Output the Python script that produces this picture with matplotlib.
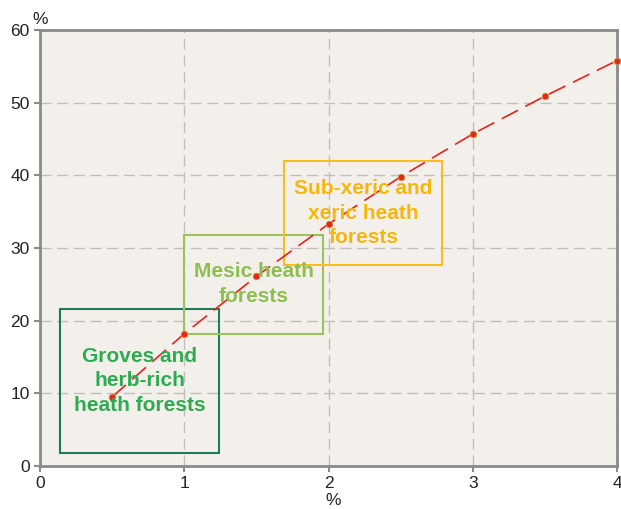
import matplotlib
matplotlib.use("Agg")
import matplotlib.pyplot as plt
from matplotlib.patches import Rectangle

plt.rcParams['font.family'] = ['Liberation Sans', 'DejaVu Sans']

# series
x_vals = [0.5, 1.0, 1.5, 2.0, 2.5, 3.0, 3.5, 4.0]
y_vals = [9.5, 18.2, 26.1, 33.3, 39.8, 45.7, 50.9, 55.8]

# forest type boxes: (x0, y0, x1, y1)
box_labels = ["Groves and\nherb-rich\nheath forests", "Mesic heath\nforests", "Sub-xeric and\nxeric heath\nforests"]
box_extents = [(0.14, 1.8, 1.24, 21.6), (1.0, 18.2, 1.96, 31.8), (1.69, 27.6, 2.79, 42.0)]
box_edge = ["#1b7d5b", "#9bc260", "#f7bf1e"]
box_text = ["#2eab52", "#8dbf4f", "#f5b80a"]

fig = plt.figure(figsize=(6.21, 5.09), dpi=100)
ax = fig.add_axes([0.0644, 0.0845, 0.9292, 0.8565])
ax.set_facecolor("#f3f0ec")

ax.set_xlim(0, 4)
ax.set_ylim(0, 60)
ax.set_xticks([0, 1, 2, 3, 4])
ax.set_yticks(range(0, 61, 10))
ax.grid(True, color="#c2bfba", linestyle=(0, (8, 4)), linewidth=1)
ax.set_axisbelow(True)

for side in ["left", "bottom", "top", "right"]:
    ax.spines[side].set_color("#8a8a8a")
    ax.spines[side].set_linewidth(2)
ax.tick_params(colors="#8a8a8a", labelcolor="#222222", labelsize=12.5, length=4, width=1.5)

for (x0, y0, x1, y1), ec in zip(box_extents, box_edge):
    ax.add_patch(Rectangle((x0, y0), x1 - x0, y1 - y0, fill=False, edgecolor=ec, linewidth=1.5, zorder=2))

ax.plot(x_vals, y_vals, color="#e8221e", linestyle=(0, (11, 5)), linewidth=1.2, zorder=3,
        marker="o", markersize=4.8, markerfacecolor="#e8221e", markeredgecolor="#c8a040",
        markeredgewidth=0.6, clip_on=False)

for (x0, y0, x1, y1), lab, tc in zip(box_extents, box_labels, box_text):
    ax.text((x0 + x1) / 2, (y0 + y1) / 2, lab,
            ha="center", va="center", color=tc,
            fontsize=15, fontweight="bold", linespacing=1.38, zorder=4)

fig.text(0.065, 0.962, "%", ha="center", va="center", fontsize=12.5, color="#222222")
fig.text(0.536, 0.016, "%", ha="center", va="center", fontsize=12.5, color="#222222")

fig.savefig("out.png", dpi=100)
